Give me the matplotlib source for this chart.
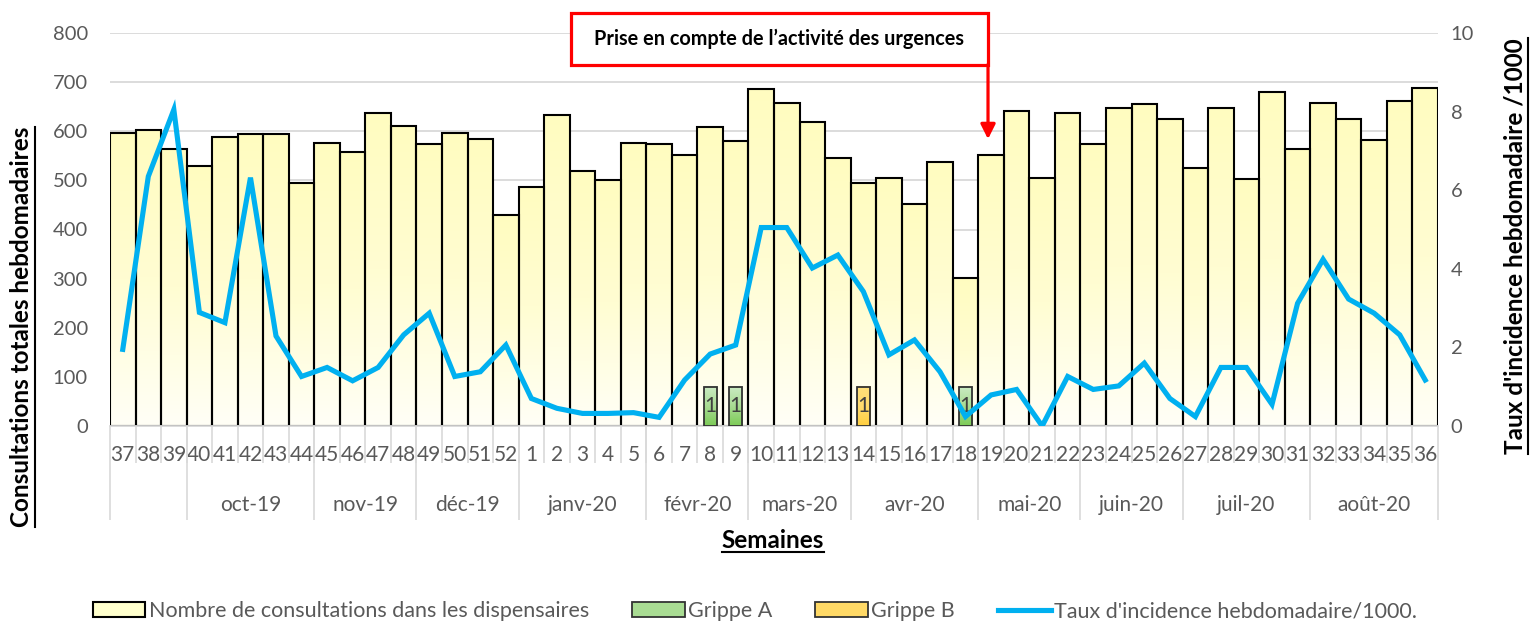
import numpy as np
import matplotlib
matplotlib.use("Agg")
import matplotlib.pyplot as plt
from matplotlib.colors import LinearSegmentedColormap
from matplotlib.patches import Patch, Rectangle
from matplotlib.lines import Line2D

# données
semaines = [str(s) for s in range(37, 53)] + [str(s) for s in range(1, 37)]
consultations = [596, 603, 564, 530, 589, 595, 594, 495, 577, 557, 638, 611, 575, 596, 584, 429,
                 486, 634, 520, 501, 576, 575, 551, 608, 580, 686, 658, 618, 546, 495, 505, 452,
                 538, 302, 551, 641, 504, 637, 575, 647, 656, 624, 526, 648, 503, 680, 563, 657,
                 624, 583, 661, 689]
incidence = [1.95, 6.35, 8.05, 2.89, 2.63, 6.32, 2.29, 1.26, 1.49, 1.15, 1.49, 2.32, 2.87, 1.26, 1.38, 2.06,
             0.70, 0.45, 0.32, 0.32, 0.34, 0.22, 1.17, 1.83, 2.06, 5.05, 5.05, 4.02, 4.35, 3.42, 1.81, 2.19,
             1.38, 0.24, 0.79, 0.93, 0.0, 1.26, 0.93, 1.02, 1.60, 0.70, 0.24, 1.49, 1.49, 0.55, 3.12, 4.24,
             3.23, 2.87, 2.32, 1.17]
grippe_a_semaines = ["8", "9", "18"]
grippe_b_semaines = ["14"]
grippe_hauteur = 80
grippe_nombre = "1"
mois = ["", "oct-19", "nov-19", "déc-19", "janv-20", "févr-20", "mars-20",
        "avr-20", "mai-20", "juin-20", "juil-20", "août-20"]
semaines_par_mois = [3, 5, 4, 4, 5, 4, 4, 5, 4, 4, 5, 5]

plt.rcParams['font.family'] = ['Lato', 'DejaVu Sans']
gris = '#595959'

fig = plt.figure(figsize=(15.34, 6.21), dpi=100)
ax = fig.add_axes([110/1534, 1-426/621, 1328/1534, 393/621])
x = np.arange(len(semaines))


def barres_degrade(xs, hs, width, couleurs, edge, lw, z):
    cmap = LinearSegmentedColormap.from_list("g", couleurs)
    grad = np.linspace(0, 1, 100).reshape(-1, 1)
    rects = ax.bar(xs, hs, width=width, facecolor='none', edgecolor=edge, linewidth=lw, zorder=z)
    for r in rects:
        x0, w, h = r.get_x(), r.get_width(), r.get_height()
        ax.imshow(grad, extent=[x0, x0 + w, 0, h], origin='lower', aspect='auto',
                  cmap=cmap, zorder=z - 0.1, interpolation='bilinear')
    return rects


# barres principales (dégradé jaune pâle)
barres_degrade(x, consultations, 1.0, ['#FFFFF6', '#FFFDD2', '#FFFCC0'], 'black', 1.5, 2)

# grippe A et B
xa = [semaines.index(s, 16) for s in grippe_a_semaines]
xb = [semaines.index(s, 16) for s in grippe_b_semaines]
barres_degrade(xa, [grippe_hauteur]*len(xa), 0.52, ['#7CCB57', '#A9DC93', '#CBEBC4'], '#333333', 1.3, 3)
barres_degrade(xb, [grippe_hauteur]*len(xb), 0.52, ['#FFCF40', '#FFDB6E', '#FFE07A'], '#333333', 1.3, 3)
for xi in xa + xb:
    ax.text(xi, grippe_hauteur/2, grippe_nombre, ha='center', va='center', color='#404040',
            fontsize=15, zorder=4)

ax.set_xlim(-0.5, len(semaines) - 0.5)
ax.set_ylim(0, 800)
ax.set_yticks(range(0, 801, 100))
ax.yaxis.grid(True, color='#D9D9D9', linewidth=1.3)
ax.set_axisbelow(True)
for s in ['left', 'right', 'top']:
    ax.spines[s].set_visible(False)
ax.spines['bottom'].set_color('#D9D9D9')
ax.spines['bottom'].set_linewidth(1.3)
ax.tick_params(axis='y', length=0, labelsize=14.5, labelcolor=gris, pad=16)
ax.set_xticks(x, semaines)
ax.tick_params(axis='x', length=0, labelsize=15, labelcolor=gris, pad=14)

# séparateurs de l'axe x à deux niveaux
xt = ax.get_xaxis_transform()
ax.vlines(x[1:] - 0.5, -0.094, 0, transform=xt, colors='#D9D9D9', linewidth=1.2, clip_on=False)
bornes = np.concatenate([[0], np.cumsum(semaines_par_mois)]) - 0.5
ax.vlines(bornes, -0.24, 0, transform=xt, colors='#D9D9D9', linewidth=1.2, clip_on=False)
for m, a, b in zip(mois, bornes[:-1], bornes[1:]):
    ax.text((a + b)/2, -0.201, m, transform=xt, ha='center', va='center', fontsize=15, color=gris)

# axe secondaire : taux d'incidence
ax2 = ax.twinx()
ax2.plot(x, incidence, color='#00B0F0', linewidth=3.7, solid_joinstyle='miter', zorder=5)
ax2.set_ylim(0, 10)
ax2.set_yticks(range(0, 11, 2))
for s in ['left', 'right', 'top', 'bottom']:
    ax2.spines[s].set_visible(False)
ax2.tick_params(axis='y', length=0, labelsize=14.5, labelcolor=gris, pad=9)

# annotation
x_fleche = semaines.index("19", 16) - 0.12
x_gauche = x_fleche - 16.33
ax.add_patch(Rectangle((x_gauche, 735), x_fleche - x_gauche, 106, facecolor='white',
                       edgecolor='#FF0000', linewidth=2.3, clip_on=False, zorder=6))
ax.text((x_gauche + x_fleche)/2, 788, "Prise en compte de l’activité des urgences",
        ha='center', va='center', fontsize=14.3, fontweight='bold', color='black', zorder=7)
ax.annotate('', xy=(x_fleche, 584), xytext=(x_fleche, 736),
            arrowprops=dict(arrowstyle='-|>', color='#FF0000', lw=2.3, mutation_scale=22,
                            shrinkA=0, shrinkB=0), zorder=7, annotation_clip=False)

# titres des axes (soulignés)
t1 = fig.text(22/1534, 1-327/621, "Consultations totales hebdomadaires", rotation=90,
              ha='center', va='center', fontsize=17.5, fontweight='bold')
t2 = fig.text(1515/1534, 1-246/621, "Taux d'incidence hebdomadaire /1000", rotation=90,
              ha='center', va='center', fontsize=17.5, fontweight='bold')
t3 = fig.text(773/1534, 1-541/621, "Semaines", ha='center', va='center',
              fontsize=17.5, fontweight='bold')

# légende
poignees = [Patch(facecolor='#FFFFCC', edgecolor='black', linewidth=1.5),
            Patch(facecolor='#A9DC93', edgecolor='#333333', linewidth=1.3),
            Patch(facecolor='#FFD966', edgecolor='#333333', linewidth=1.3),
            Line2D([0], [0], color='#00B0F0', linewidth=3.7)]
noms = ["Nombre de consultations dans les dispensaires", "Grippe A", "Grippe B",
        "Taux d'incidence hebdomadaire/1000."]
leg = fig.legend(poignees, noms, loc='center', bbox_to_anchor=(0.492, 0.016), ncol=4,
                 frameon=False, fontsize=15.5, handlelength=2.45, handleheight=0.7,
                 handletextpad=0.15, columnspacing=2.0, labelcolor=gris)

fig.canvas.draw()
r = fig.canvas.get_renderer()
W, H = fig.bbox.width, fig.bbox.height
for t in (t1, t2):
    bb = t.get_window_extent(r)
    fig.add_artist(Line2D([(bb.x1 + 1)/W]*2, [bb.y0/H, bb.y1/H], color='black', linewidth=1.5))
bb = t3.get_window_extent(r)
fig.add_artist(Line2D([bb.x0/W, bb.x1/W], [(bb.y0 + 1)/H]*2, color='black', linewidth=1.5))

fig.savefig("out.png", dpi=100)
